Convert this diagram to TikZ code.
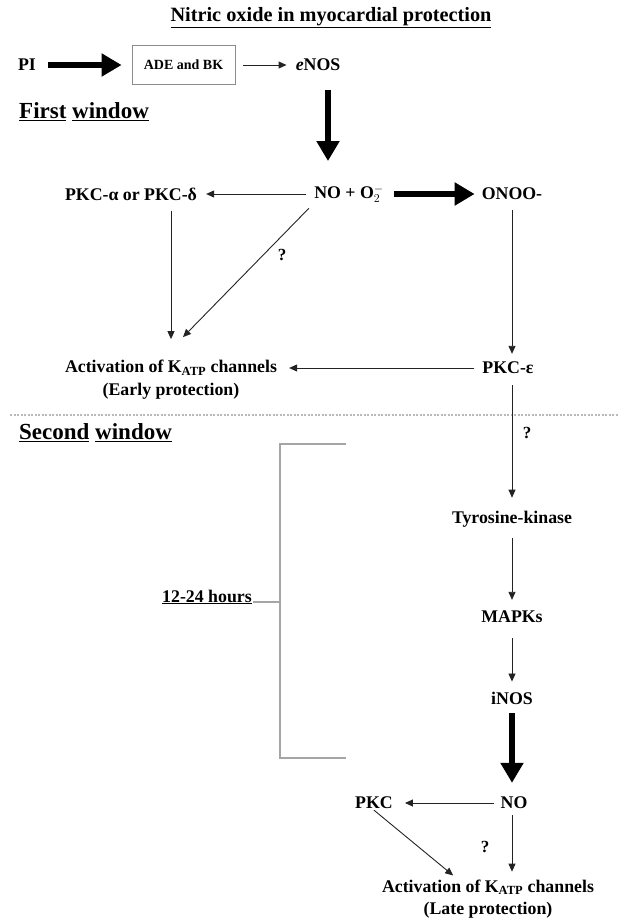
\documentclass[tikz,border=0pt]{standalone}
\usepackage{fontspec}
\setmainfont{Liberation Serif}
\usetikzlibrary{arrows.meta, positioning}
\definecolor{inkgray}{RGB}{35,35,35}
\definecolor{bracketgray}{RGB}{165,165,165}
\definecolor{boxgray}{RGB}{140,140,140}
\definecolor{sepgray}{RGB}{185,185,185}
\tikzset{
  txt/.style={font=\bfseries\fontsize{17.8}{23}\selectfont, inner sep=1pt, align=center},
  headtxt/.style={font=\bfseries\fontsize{20.3}{24}\selectfont, inner sep=1pt},
  wintxt/.style={font=\bfseries\fontsize{23}{27}\selectfont, inner sep=1pt, anchor=west},
  boxtxt/.style={font=\bfseries\fontsize{14}{16}\selectfont, draw=boxgray,
    line width=0.8pt, minimum width=103pt, minimum height=39pt, inner sep=2pt},
  qtxt/.style={font=\bfseries\fontsize{17}{20}\selectfont, inner sep=0pt},
  thinarrow/.style={-{Triangle[length=8pt, width=7pt]}, line width=0.9pt, color=inkgray},
  fatarrow/.style={-{Triangle[length=20pt, width=22pt]}, line width=6pt},
  bracket/.style={line width=2pt, color=bracketgray},
  sepline/.style={line width=1.2pt, color=sepgray, dash pattern=on 2pt off 1.5pt},
}

\begin{document}
\begin{tikzpicture}[x=1pt, y=-1pt]
  \useasboundingbox (0,0) rectangle (619,919);

  %% Title
  \node[headtxt] (title) at (331,18) {\underline{Nitric oxide in myocardial protection}};

  %% Trigger
  \node[txt] (pi) at (27,65) {PI};
  \node[boxtxt] (ade) at (183.5,65) {ADE and BK};
  \node[txt] (enos) at (318,65) {\textit{e}NOS};

  \draw[fatarrow, shorten <=11, shorten >=10] (pi) -- (ade);
  \draw[thinarrow, shorten <=8, shorten >=8] (ade) -- (enos);

  %% First window
  \node[wintxt] (first) at (18,112) {\underline{First} \underline{window}};

  \node[txt] (no1)  at (349,194) {NO + O$_2^{-}$};
  \node[txt] (pkca) at (131,194) {PKC-α or PKC-δ};
  \node[txt] (onoo) at (512,194) {ONOO-};
  \node[txt] (early) at (171,380) {Activation of K\textsubscript{ATP} channels\\(Early protection)};
  \node[txt] (pkce) at (508,368) {PKC-ε};
  \node[qtxt] (q1) at (282,255) {?};

  \draw[fatarrow, shorten <=18, shorten >=23] (enos.south) ++(10,0) coordinate (e1)
    -- (e1 |- no1.north);
  \draw[thinarrow, shorten <=7, shorten >=8] (no1) -- (pkca);
  \draw[fatarrow, shorten <=9, shorten >=6] (no1) -- (onoo);
  \draw[thinarrow, shorten <=9, shorten >=20] (early |- pkca.south) -- (early.north);
  \draw[thinarrow, shorten <=6] (no1.south west) -- ([xshift=12pt, yshift=22pt]early.north);
  \draw[thinarrow, shorten <=9, shorten >=7] (onoo.south) -- (onoo |- pkce.north);
  \draw[thinarrow, shorten <=7, shorten >=11] (pkce.west) -- (pkce.west -| early.east);

  %% Separator
  \draw[sepline] (10,415) -- (619,415);

  %% Second window
  \node[wintxt] (second) at (18,433) {\underline{Second} \underline{window}};

  \node[qtxt] (q2) at (527,433) {?};
  \node[txt] (tyr)  at (512,519) {Tyrosine-kinase};
  \node[txt] (mapk) at (512,617) {MAPKs};
  \node[txt] (inos) at (512,698) {iNOS};
  \node[txt] (no2)  at (514,803) {NO};
  \node[txt] (pkc)  at (374,803) {PKC};
  \node[qtxt] (q3) at (485,847) {?};
  \node[txt, font=\bfseries\fontsize{17.8}{22}\selectfont] (late) at (488,899)
    {Activation of K\textsubscript{ATP} channels\\(Late protection)};

  \draw[thinarrow, shorten <=10, shorten >=12] (pkce.south -| tyr) -- (tyr.north);
  \draw[thinarrow, shorten <=10, shorten >=10] (tyr) -- (mapk);
  \draw[thinarrow, shorten <=14, shorten >=9] (mapk) -- (inos);
  \draw[fatarrow, shorten <=8, shorten >=13] (inos) -- (inos |- no2.north);
  \draw[thinarrow, shorten <=5, shorten >=11] (no2) -- (pkc);
  \draw[thinarrow, shorten <=5, shorten >=7] (no2.south -| inos) -- (inos |- late.north);
  \draw[thinarrow, shorten >=5] (pkc.south) -- ([xshift=-31pt]late.north);

  %% Time bracket
  \node[txt] (hours) at (207,597) {\underline{12-24 hours}};
  \coordinate (brtop) at (346,444);
  \coordinate (brbot) at (346,758);
  \draw[bracket] (brtop) -- ++(-66,0) |- (brbot);
  \draw[bracket] ([yshift=-5pt]hours.east) -- ++(28,0);

\end{tikzpicture}
\end{document}
